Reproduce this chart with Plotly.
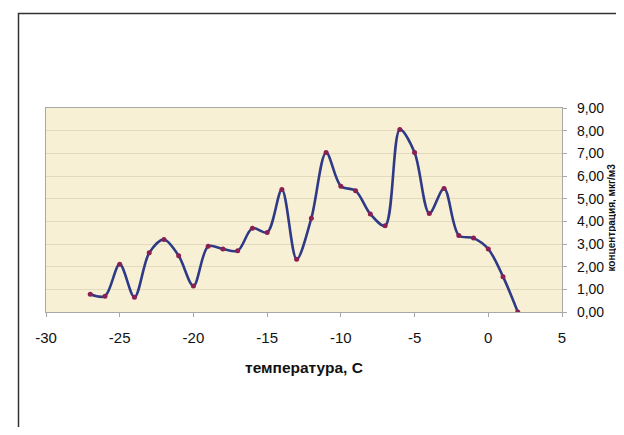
import plotly.graph_objects as go

# data
temperature = [-27, -26, -25, -24, -23, -22, -21, -20, -19, -18, -17, -16, -15, -14, -13,
               -12, -11, -10, -9, -8, -7, -6, -5, -4, -3, -2, -1, 0, 1, 2]
concentration = [0.78, 0.70, 2.11, 0.65, 2.61, 3.20, 2.48, 1.15, 2.90, 2.78, 2.70, 3.70, 3.51, 5.40, 2.33,
                 4.14, 7.04, 5.55, 5.35, 4.32, 3.80, 8.05, 7.04, 4.35, 5.45, 3.38, 3.26, 2.78, 1.56, 0.00]
x_tickvals = [-30, -25, -20, -15, -10, -5, 0, 5]
x_ticktext = ["-30", "-25", "-20", "-15", "-10", "-5", "0", "5"]
y_tickvals = [0, 1, 2, 3, 4, 5, 6, 7, 8, 9]
y_ticktext = ["0,00", "1,00", "2,00", "3,00", "4,00", "5,00", "6,00", "7,00", "8,00", "9,00"]
x_title = "температура, С"
y_title = "концентрация, мкг/м3"

# page has an 8px body margin: figure pixel = page pixel - 8
OFF = 8
W, H = 608, 419
L, R, T, B = 46 - OFF, W - (562 - OFF), 108 - OFF, H - (312 - OFF)
PW, PH = W - L - R, H - T - B


def px(page_x):
    return (page_x - OFF - L) / PW


def py(page_y):
    return (H - B - (page_y - OFF)) / PH


fig = go.Figure()
fig.add_trace(go.Scatter(
    x=temperature, y=concentration, mode="lines+markers",
    line=dict(color="#2f3a86", width=2.6, shape="spline", smoothing=0.9),
    marker=dict(color="#8a1f52", size=5),
    showlegend=False, hoverinfo="skip",
))

fig.update_layout(
    width=W, height=H,
    margin=dict(l=L, r=R, t=T, b=B, pad=0, autoexpand=False),
    paper_bgcolor="white",
    plot_bgcolor="#f8f0d5",
    font=dict(family="Liberation Sans, Arial, sans-serif", color="#111111"),
    xaxis=dict(
        range=[-30, 5], tickvals=x_tickvals, ticktext=x_ticktext,
        showgrid=False, zeroline=False, automargin=False,
        showline=True, linecolor="#a8a8a8", linewidth=1.2, mirror=True,
        ticks="outside", ticklen=4, tickcolor="#a8a8a8",
        tickfont=dict(size=15), ticklabelstandoff=8,
        title=dict(text="<b>" + x_title + "</b>", font=dict(size=15.5), standoff=17),
    ),
    yaxis=dict(
        range=[0, 9], tickvals=y_tickvals, ticktext=y_ticktext, side="right",
        showgrid=True, gridcolor="#e2dabd", gridwidth=1.2, zeroline=False, automargin=False,
        showline=True, linecolor="#a8a8a8", linewidth=1.2, mirror=True,
        ticks="outside", ticklen=4, tickcolor="#a8a8a8",
        tickfont=dict(size=14), ticklabelstandoff=7,
    ),
    annotations=[dict(
        text="<b>" + y_title + "</b>", textangle=-90,
        xref="paper", yref="paper", x=px(610.5), y=py(218),
        xanchor="center", yanchor="middle", showarrow=False,
        font=dict(size=10, color="#111111"),
    )],
    shapes=[dict(
        type="rect", xref="paper", yref="paper",
        x0=px(18.5), x1=px(660),
        y0=py(470), y1=py(13.5),
        line=dict(color="#333333", width=1.5), fillcolor="rgba(0,0,0,0)", layer="below",
    )],
)

fig.write_html("out.html")
